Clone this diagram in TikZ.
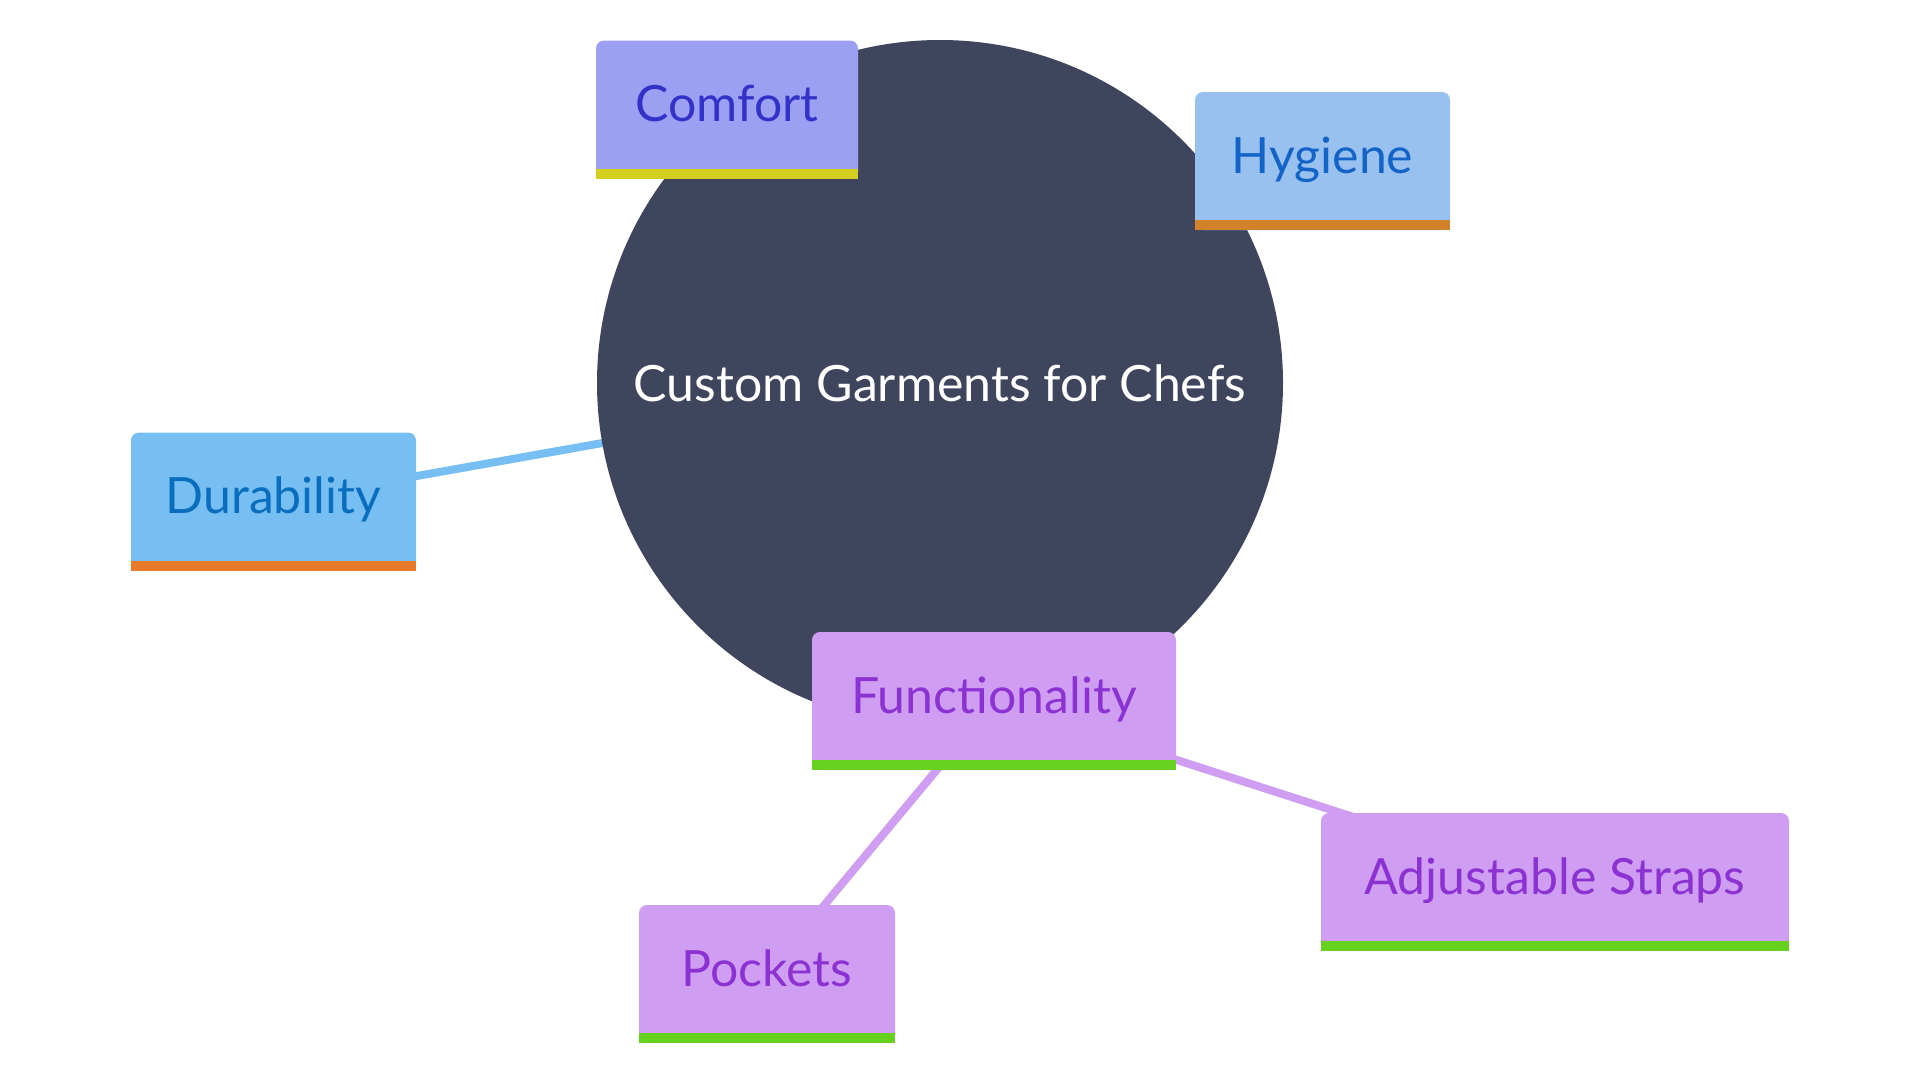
\documentclass[tikz,border=0pt]{standalone}
\usepackage{fontspec}
\setmainfont{Lato}
\usetikzlibrary{calc,backgrounds}

\definecolor{rootfill}{HTML}{40455E}
\definecolor{comfortfill}{HTML}{9BA0F2}
\definecolor{comforttext}{HTML}{3232C8}
\definecolor{comfortbar}{HTML}{D4CF1F}
\definecolor{hygienefill}{HTML}{99C1EF}
\definecolor{hygienetext}{HTML}{1464C8}
\definecolor{hygienebar}{HTML}{D4822A}
\definecolor{durafill}{HTML}{77BFF2}
\definecolor{duratext}{HTML}{0A6EBE}
\definecolor{durabar}{HTML}{E87A2A}
\definecolor{funcfill}{HTML}{CF9EF2}
\definecolor{functext}{HTML}{8C32D2}
\definecolor{funcbar}{HTML}{66D11F}

\begin{document}
\begin{tikzpicture}[x=1pt,y=-1pt,
  root/.style={circle, fill=rootfill, text=white, minimum size=686pt, inner sep=0pt,
    font=\fontsize{50}{60}\selectfont},
  leaf/.style={rounded corners=8pt, inner sep=0pt, minimum height=138pt,
    text height=34pt, text depth=10pt, font=\fontsize{50}{60}\selectfont},
  branch/.style={line width=#1, line cap=round}]
\useasboundingbox (0,0) rectangle (1920,1080);

\node[root] (root) at (940,383) {Custom Garments for Chefs};

\node[leaf, fill=comfortfill, text=comforttext, minimum width=262pt] (comfort) at (727,109.5) {Comfort};
\node[leaf, fill=hygienefill, text=hygienetext, minimum width=255pt] (hygiene) at (1322.5,161) {Hygiene};
\node[leaf, fill=durafill, text=duratext, minimum width=285pt] (durability) at (273.5,501.5) {Durability};
\node[leaf, fill=funcfill, text=functext, minimum width=364pt] (functionality) at (994,701) {Functionality};
\node[leaf, fill=funcfill, text=functext, minimum width=256pt] (pockets) at (767,974) {Pockets};
\node[leaf, fill=funcfill, text=functext, minimum width=468pt] (straps) at (1555,882) {Adjustable Straps};

% coloured bars under the boxes
\foreach \n/\c in {comfort/comfortbar, hygiene/hygienebar, durability/durabar,
    functionality/funcbar, pockets/funcbar, straps/funcbar}
  \fill[\c] ($(\n.south west)+(0,-10)$) rectangle (\n.south east);

\begin{scope}[on background layer]
\draw[branch=8pt, comfortfill] (root.center) -- (comfort.center);
\draw[branch=8pt, hygienefill] (root.center) -- (hygiene.center);
\draw[branch=8pt, durafill] (root.center) -- (durability.center);
\draw[branch=8pt, funcfill] (root.center) -- (functionality.center);
\draw[branch=8pt, funcfill] (functionality.center) -- (pockets.center);
\draw[branch=8pt, funcfill] (functionality.center) -- (straps.center);
\end{scope}
\end{tikzpicture}
\end{document}
